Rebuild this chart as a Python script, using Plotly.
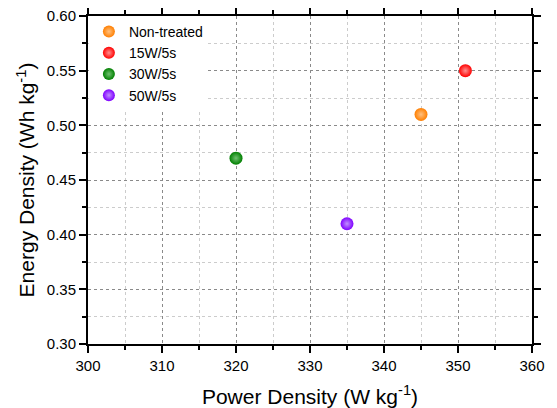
import plotly.graph_objects as go

series_names = ["Non-treated", "15W/5s", "30W/5s", "50W/5s"]
power_density = [345, 351, 320, 335]
energy_density = [0.51, 0.55, 0.47, 0.41]
colors = ["#FF7F00", "#FF0000", "#008000", "#8000FF"]
highlights = ["#FFC080", "#FF9090", "#70C070", "#C090FF"]

x_ticks = [300, 310, 320, 330, 340, 350, 360]
y_ticks = [0.30, 0.35, 0.40, 0.45, 0.50, 0.55, 0.60]

fig = go.Figure()
for name, x, y, c, h in zip(series_names, power_density, energy_density, colors, highlights):
    fig.add_trace(go.Scatter(
        x=[x], y=[y], mode="markers", name=name,
        marker=dict(size=13, color=c, line=dict(width=0),
                    gradient=dict(type="radial", color=h)),
    ))

axis_common = dict(
    showline=True, linecolor="black", linewidth=2, mirror="allticks",
    ticks="outside", ticklen=7, tickwidth=2, tickcolor="black",
    showgrid=True, gridcolor="#8a8a8a", griddash="dot", gridwidth=1,
    zeroline=False, automargin=False, ticklabeloverflow="allow",
    tickfont=dict(family="Liberation Sans, Arial", size=15, color="black"),
)

fig.update_xaxes(
    range=[300, 360], tickvals=x_ticks, ticktext=[str(v) for v in x_ticks],
    title=dict(text="Power Density (W kg<sup>-1</sup>)",
               font=dict(family="Liberation Sans, Arial", size=21, color="black"), standoff=16),
    minor=dict(dtick=5, ticks="outside", ticklen=4, tickwidth=2, tickcolor="black",
               showgrid=True, gridcolor="#cccccc", griddash="dot"),
    **axis_common,
)
fig.update_yaxes(
    range=[0.30, 0.60], tickvals=y_ticks, ticktext=[f"{v:.2f}" for v in y_ticks],
    title=dict(text="Energy Density (Wh kg<sup>-1</sup>)",
               font=dict(family="Liberation Sans, Arial", size=21, color="black"), standoff=6),
    minor=dict(dtick=0.025, ticks="outside", ticklen=4, tickwidth=2, tickcolor="black",
               showgrid=True, gridcolor="#cccccc", griddash="dot"),
    **axis_common,
)

fig.update_layout(
    width=549, height=400,
    margin=dict(l=80, r=25, t=8, b=64),
    plot_bgcolor="white", paper_bgcolor="white",
    showlegend=True,
    legend=dict(x=0.002, y=1.0, xanchor="left", yanchor="top",
                bgcolor="rgba(255,255,255,1)", borderwidth=0,
                font=dict(family="Liberation Sans, Arial", size=14, color="black"),
                itemsizing="constant", tracegroupgap=0),
)

fig.write_html("out.html")
